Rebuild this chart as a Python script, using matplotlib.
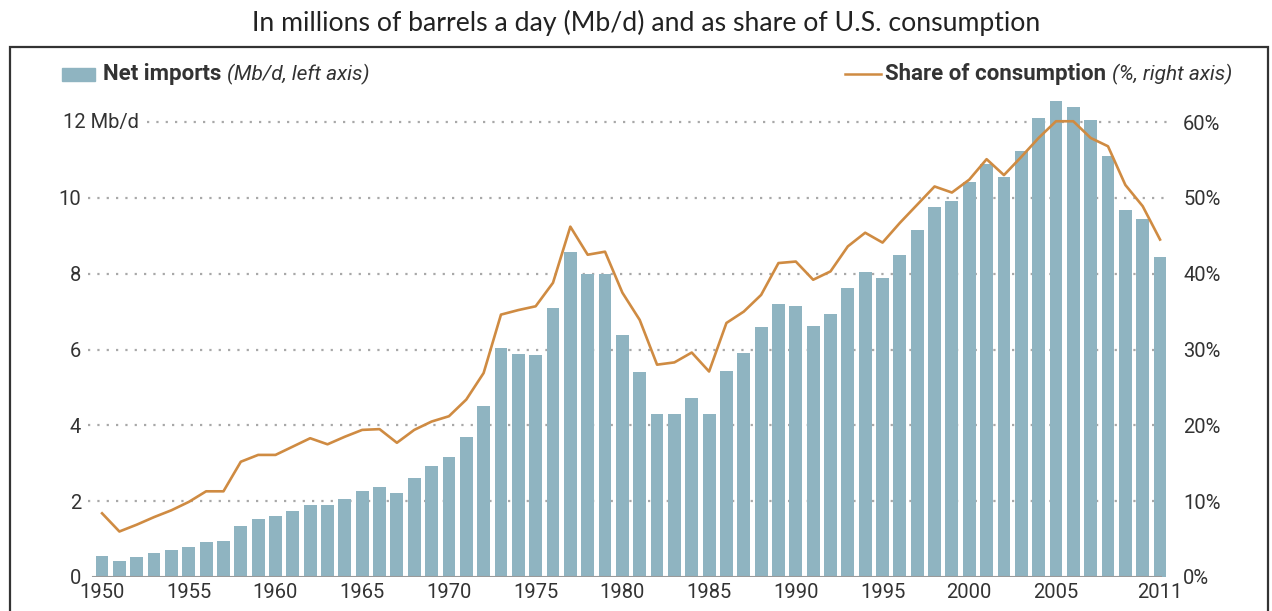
import matplotlib
matplotlib.use("Agg")
import matplotlib.pyplot as plt
from matplotlib.patches import Rectangle

# Net crude oil and product imports, 1950-2011
years = list(range(1950, 2012))
net_imports = [0.55, 0.42, 0.52, 0.63, 0.70, 0.80, 0.93, 0.96, 1.35, 1.53,
               1.61, 1.74, 1.91, 1.91, 2.06, 2.28, 2.37, 2.21, 2.61, 2.93,
               3.16, 3.70, 4.52, 6.03, 5.89, 5.85, 7.09, 8.57, 8.00, 7.99,
               6.37, 5.40, 4.30, 4.31, 4.72, 4.29, 5.44, 5.91, 6.59, 7.20,
               7.16, 6.63, 6.94, 7.62, 8.05, 7.89, 8.50, 9.16, 9.76, 9.91,
               10.42, 10.90, 10.55, 11.24, 12.10, 12.55, 12.39, 12.04, 11.11, 9.67,
               9.44, 8.45]
share_pct = [8.4, 6.0, 6.9, 7.9, 8.8, 9.9, 11.3, 11.3, 15.2, 16.1,
             16.1, 17.2, 18.3, 17.5, 18.5, 19.4, 19.5, 17.7, 19.4, 20.5,
             21.2, 23.4, 26.9, 34.6, 35.2, 35.7, 38.8, 46.2, 42.5, 42.9,
             37.5, 33.9, 28.0, 28.3, 29.6, 27.1, 33.5, 35.0, 37.2, 41.4,
             41.6, 39.2, 40.3, 43.6, 45.4, 44.1, 46.7, 49.1, 51.5, 50.7,
             52.4, 55.1, 53.0, 55.4, 57.9, 60.1, 60.1, 57.9, 56.8, 51.7,
             48.9, 44.5]
left_ticks = [0, 2, 4, 6, 8, 10]
right_ticks = [0, 10, 20, 30, 40, 50, 60]
year_ticks = [1950, 1955, 1960, 1965, 1970, 1975, 1980, 1985, 1990, 1995, 2000, 2005, 2011]

bar_color = "#8fb4c1"
line_color = "#cf8b42"
text_color = "#333333"
grid_color = "#a8a8a8"
font = ["Roboto", "DejaVu Sans"]

W, H = 1272, 611
fig = plt.figure(figsize=(W / 100, H / 100), dpi=100)
ax = fig.add_axes([88 / W, (H - 577) / H, (1172 - 88) / W, 492.9 / H])
ax2 = ax.twinx()

ax.set_xlim(1949.19, 2011.69)
ax.set_ylim(0, 13)
ax2.set_ylim(0, 65)

# dotted grid lines, the top one starts after its longer label
for v in left_ticks[1:]:
    ax.hlines(v, 1949.2, 2011.4, colors=grid_color, linewidth=1.6,
              linestyles=(0, (1.0, 3.2)), zorder=1)
ax.hlines(12, 1952.6, 2011.4, colors=grid_color, linewidth=1.6,
          linestyles=(0, (1.0, 3.2)), zorder=1)

ax.bar(years, net_imports, width=0.74, color=bar_color, zorder=2)
ax.axhline(0, xmin=0.005, xmax=0.99, color="#9a9a9a", linewidth=1.5, zorder=3)
ax2.plot(years, share_pct, color=line_color, linewidth=1.9, zorder=4)

for a in (ax, ax2):
    for s in a.spines.values():
        s.set_visible(False)

ax.set_xticks(year_ticks)
ax.set_xticklabels([str(y) for y in year_ticks], family=font, fontsize=14.5, color=text_color)
ax.tick_params(axis="x", length=0, pad=4)
ax.set_yticks(left_ticks)
ax.set_yticklabels([str(v) for v in left_ticks], family=font, fontsize=14.5, color=text_color)
ax.tick_params(axis="y", length=0, pad=5)
ax.text(1947.75, 12, "12 Mb/d", family=font, fontsize=14.5, color=text_color,
        ha="left", va="center")

ax2.set_yticks(right_ticks)
ax2.set_yticklabels([f"{v}%" for v in right_ticks], family=font, fontsize=14.5, color=text_color)
ax2.tick_params(axis="y", length=0, pad=8)

# outer frame
fig.patches.append(Rectangle((10 / W, -0.02), 1258 / W, (H - 47) / H + 0.02,
                             transform=fig.transFigure, fill=False,
                             edgecolor="#333333", linewidth=1.6))

fig.text(646 / W, 1 - 23 / H, "In millions of barrels a day (Mb/d) and as share of U.S. consumption",
         family=["Lato", "DejaVu Sans"], fontsize=19.2, color="#222222", ha="center", va="center")

# legend, built from pieces so the bold and italic parts sit side by side
fig.canvas.draw()
renderer = fig.canvas.get_renderer()
ly = 1 - 74 / H
fig.patches.append(Rectangle((62 / W, 1 - 81 / H), 33 / W, 13 / H,
                             transform=fig.transFigure, color=bar_color))
t1 = fig.text(103 / W, ly, "Net imports", family=font, fontsize=16, weight="bold",
              color=text_color, ha="left", va="center")
bb = t1.get_window_extent(renderer)
fig.text((bb.x1 + 6) / W, ly, "(Mb/d, left axis)", family=font, fontsize=15,
         style="italic", color=text_color, ha="left", va="center")

t3 = fig.text(1232 / W, ly, "(%, right axis)", family=font, fontsize=15,
              style="italic", color=text_color, ha="right", va="center")
bb = t3.get_window_extent(renderer)
t4 = fig.text((bb.x0 - 6) / W, ly, "Share of consumption", family=font, fontsize=16,
              weight="bold", color=text_color, ha="right", va="center")
bb = t4.get_window_extent(renderer)
fig.lines.append(plt.Line2D([(bb.x0 - 40) / W, (bb.x0 - 4) / W], [ly, ly],
                            transform=fig.transFigure, color=line_color, linewidth=1.8))

fig.savefig("out.png", dpi=100)
